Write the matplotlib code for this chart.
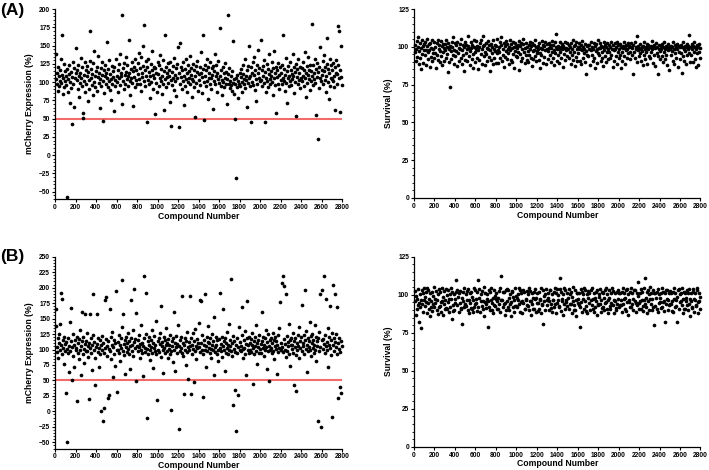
import numpy as np
import matplotlib
matplotlib.use("Agg")
import matplotlib.pyplot as plt
from matplotlib.ticker import MultipleLocator, AutoMinorLocator
from matplotlib.font_manager import FontProperties

plt.rcParams['font.family'] = ['Liberation Sans', 'DejaVu Sans']

# every 5th compound of the screen (compound numbers 1..2800)
compound_step = 5

mcherry_A = [
    138, 104, 97, 112, 88, 121, 108, 95, 117, 102, 131, 99, 164, 110, 84, 106, 125, 93, 115, 101,
    109, 96, -57, 118, 104, 87, 123, 111, 72, 100, 114, 92, 42, 107, 128, 98, 119, 66, 105, 113,
    146, 103, 116, 90, 124, 108, 79, 112, 99, 133, 106, 94, 120, 58, 51, 110, 101, 127, 86, 117,
    97, 122, 108, 74, 114, 103, 91, 129, 170, 105, 118, 96, 111, 83, 126, 100, 143, 109, 93, 115,
    121, 88, 107, 136, 99, 113, 64, 104, 119, 95, 110, 127, 47, 102, 116, 85, 108, 124, 97, 112,
    155, 106, 93, 118, 101, 130, 89, 111, 104, 76, 122, 98, 115, 107, 61, 120, 103, 94, 132, 109,
    100, 117, 86, 125, 105, 139, 96, 113, 108, 70, 192, 119, 102, 91, 126, 110, 98, 134, 114, 104,
    123, 95, 109, 157, 112, 101, 82, 118, 106, 128, 99, 115, 67, 121, 107, 93, 131, 103, 116, 97,
    126, 111, 104, 140, 98, 119, 88, 135, 113, 107, 122, 150, 178, 102, 117, 94, 129, 109, 45, 120,
    103, 132, 97, 114, 108, 78, 125, 100, 116, 142, 91, 110, 121, 105, 56, 119, 99, 113, 87, 127,
    111, 95, 124, 106, 137, 101, 118, 84, 108, 130, 97, 115, 62, 104, 165, 120, 93, 112, 107, 126,
    99, 117, 109, 73, 128, 103, 40, 114, 96, 122, 106, 89, 133, 110, 101, 119, 81, 125, 105, 148,
    38, 112, 154, 98, 121, 107, 90, 116, 102, 127, 68, 109, 118, 94, 131, 104, 113, 86, 123, 100,
    115, 106, 97, 136, 110, 119, 79, 104, 125, 101, 93, 117, 108, 52, 122, 99, 114, 129, 88, 111,
    103, 120, 96, 113, 141, 107, 85, 118, 165, 100, 48, 124, 109, 95, 116, 132, 102, 77, 121, 106,
    112, 98, 127, 105, 91, 119, 110, 63, 122, 101, 115, 138, 97, 108, 124, 87, 113, 104, 129, 99,
    174, 109, 95, 117, 103, 82, 121, 100, 112, 93, 106, 126, 98, 114, 70, 104, 192, 111, 97, 119,
    101, 92, 108, 96, 115, 88, 156, 99, 104, 84, 49, 97, -31, 105, 93, 110, 78, 102, 98, 113,
    95, 107, 118, 100, 86, 111, 124, 97, 104, 131, 92, 109, 103, 66, 116, 99, 122, 106, 150, 94,
    108, 121, 45, 113, 100, 127, 96, 110, 135, 89, 117, 104, 74, 123, 98, 112, 144, 105, 119, 101,
    158, 103, 116, 95, 122, 108, 130, 99, 46, 114, 106, 87, 125, 101, 118, 93, 111, 138, 104, 97,
    115, 109, 128, 100, 83, 119, 105, 142, 96, 112, 121, 58, 107, 116, 98, 126, 110, 91, 120, 103,
    113, 97, 124, 106, 164, 101, 118, 88, 110, 133, 99, 115, 72, 105, 122, 94, 109, 127, 102, 117,
    96, 111, 104, 139, 108, 120, 85, 114, 100, 125, 53, 107, 118, 98, 131, 103, 112, 92, 121, 106,
    119, 102, 128, 109, 94, 116, 141, 105, 113, 80, 122, 99, 110, 135, 104, 117, 89, 124, 101, 115,
    179, 108, 96, 123, 112, 104, 131, 99, 118, 55, 107, 126, 22, 114, 92, 120, 106, 148, 101, 116,
    110, 129, 97, 115, 137, 103, 121, 86, 109, 125, 160, 100, 118, 77, 112, 132, 95, 106, 123, 104,
    117, 101, 126, 108, 93, 120, 62, 113, 130, 98, 111, 124, 177, 105, 170, 116, 59, 107, 150, 96,
]

survival_A = [
    96.4, 101.2, 90.7, 98.3, 104.1, 93.5, 106.8, 99.6, 88.9, 97.2, 102.5, 92.8, 85.3, 98.9, 104.6, 95.1, 100.7, 89.6, 101.9, 97.7,
    94.6, 103.4, 98.1, 88.2, 100.3, 105.2, 96.5, 91.7, 101.6, 97.9, 86.4, 102.8, 93.3, 99.4, 104.3, 90.8, 98.6, 95.7, 103.1, 92.4,
    99.8, 96.1, 86.2, 102.3, 94.9, 104.7, 91.5, 98.7, 101.3, 89.8, 97.5, 103.6, 93.9, 100.2, 87.7, 96.8, 102.1, 99.1, 90.6, 101.7,
    97.6, 104.2, 92.6, 99.9, 95.4, 83.1, 102.7, 98.4, 89.9, 100.8, 73.4, 97.1, 91.9, 103.3, 100.1, 94.4, 106.2, 88.7, 98.2, 102.4,
    93.7, 100.9, 97.4, 87.3, 103.5, 95.8, 99.3, 90.9, 101.8, 98.8, 92.7, 105.4, 88.6, 97.8, 101.1, 94.8, 84.2, 99.7, 102.9, 91.6,
    101.5, 95.9, 98.5, 90.4, 100.6, 106.9, 93.6, 99.2, 97.3, 87.8, 103.2, 98.9, 91.8, 101.4, 95.5, 86.1, 99.8, 104.4, 96.7, 89.7,
    98.6, 103.7, 92.3, 100.5, 85.4, 97.7, 99.9, 91.2, 102.2, 95.3, 104.8, 98.4, 88.5, 100.4, 107.1, 93.8, 101.3, 96.6, 87.9, 102.6,
    95.2, 99.5, 90.3, 103.8, 98.3, 93.4, 100.9, 84.3, 97.6, 101.9, 91.4, 99.6, 96.2, 88.4, 104.5, 98.7, 92.5, 101.2, 96.9, 89.5,
    100.4, 95.6, 105.3, 98.2, 89.4, 99.7, 96.4, 103.1, 92.9, 101.5, 106.3, 90.5, 98.8, 94.7, 102.4, 86.9, 100.2, 93.2, 103.9, 97.1,
    92.2, 102.1, 98.5, 95.8, 100.1, 88.3, 104.2, 97.9, 91.3, 101.6, 99.1, 90.2, 103.4, 95.4, 99.8, 85.9, 97.4, 102.7, 93.6, 100.6,
    98.9, 93.5, 101.2, 96.3, 103.6, 84.8, 100.3, 95.1, 90.6, 102.3, 98.6, 92.9, 101.7, 104.9, 96.8, 89.3, 99.4, 94.6, 102.8, 91.5,
    99.6, 96.9, 89.9, 101.4, 94.5, 103.2, 98.3, 92.4, 100.7, 87.6, 102.6, 97.5, 91.8, 101.1, 98.1, 104.3, 93.7, 99.9, 90.8, 97.3,
    95.7, 100.8, 98.6, 91.6, 102.5, 96.2, 85.7, 99.5, 94.3, 103.7, 98.4, 89.5, 101.3, 93.4, 100.5, 97.8, 103.4, 88.8, 98.7, 101.6,
    97.4, 91.7, 102.2, 98.9, 94.6, 100.9, 89.7, 99.3, 104.1, 96.6, 92.3, 101.5, 98.2, 87.9, 102.9, 95.9, 100.1, 108.2, 90.9, 98.5,
    100.6, 94.8, 98.8, 89.6, 103.1, 96.5, 99.7, 92.6, 101.9, 98.3, 86.8, 100.7, 95.3, 99.5, 91.4, 103.5, 97.6, 98.9, 93.8, 102.2,
    98.7, 100.9, 92.7, 99.8, 96.4, 88.6, 102.4, 94.9, 98.6, 104.2, 91.3, 100.2, 96.7, 87.5, 101.2, 93.5, 103.3, 98.4, 90.5, 99.9,
    95.8, 99.6, 102.3, 90.7, 98.5, 101.4, 88.9, 97.7, 103.6, 92.8, 99.9, 95.6, 98.8, 102.1, 89.9, 97.3, 81.8, 100.4, 94.7, 101.3,
    93.9, 98.7, 101.1, 87.7, 97.9, 103.4, 94.5, 99.6, 90.8, 98.4, 102.6, 92.6, 85.8, 100.3, 96.9, 101.7, 89.4, 98.6, 104.2, 95.7,
    99.4, 94.9, 98.9, 102.4, 90.9, 100.8, 96.8, 92.5, 99.7, 87.6, 103.2, 98.2, 93.6, 101.4, 89.8, 100.1, 96.5, 102.3, 91.7, 98.8,
    96.8, 101.3, 92.9, 99.9, 103.3, 94.7, 98.5, 86.9, 100.9, 97.6, 90.6, 102.5, 98.6, 93.9, 99.8, 88.7, 103.4, 96.6, 101.2, 92.8,
    98.4, 94.6, 101.8, 85.9, 99.7, 96.8, 90.7, 100.6, 98.9, 103.2, 93.6, 99.5, 88.9, 97.7, 101.3, 92.7, 98.6, 102.2, 95.8, 99.9,
    100.8, 96.6, 91.9, 99.8, 102.3, 94.6, 98.9, 82.3, 101.2, 96.7, 103.4, 92.9, 99.6, 98.7, 106.9, 89.7, 100.7, 97.8, 93.7, 99.5,
    95.9, 101.7, 98.7, 90.9, 99.9, 96.9, 87.8, 100.6, 94.8, 103.3, 98.5, 91.8, 99.7, 96.6, 101.8, 88.9, 98.8, 100.9, 93.9, 99.6,
    99.7, 92.8, 100.8, 96.8, 98.6, 103.6, 89.6, 99.9, 94.7, 101.4, 98.9, 87.6, 102.3, 95.8, 99.6, 81.9, 93.7, 100.9, 98.7, 91.8,
    96.9, 100.7, 98.8, 93.8, 101.9, 89.9, 99.7, 96.7, 103.5, 91.9, 98.6, 100.8, 94.9, 99.8, 87.9, 97.7, 101.6, 98.9, 84.9, 99.6,
    98.8, 94.9, 100.6, 96.9, 99.9, 90.8, 102.9, 98.7, 88.8, 100.9, 95.9, 99.7, 92.9, 101.8, 98.6, 86.8, 100.8, 96.8, 91.9, 99.8,
    100.9, 95.8, 82.9, 99.7, 93.9, 103.1, 98.6, 90.9, 100.8, 96.9, 99.8, 88.8, 101.9, 94.8, 98.7, 100.6, 107.9, 95.9, 99.6, 89.8,
    94.8, 99.9, 98.8, 101.9, 89.9, 100.8, 96.7, 103.3, 91.7, 99.8, 98.6, 86.7, 100.9, 95.8, 87.8, 99.7, 96.8, 101.8, 98.9, 92.7,
]

mcherry_B = [
    138, 166, 104, 96, 118, 87, 110, 125, 99, 141, 192, 107, 182, 93, 115, 102, 76, 121, 98, 109,
    30, 112, -50, 101, 94, 119, 63, 106, 97, 145, 167, 113, 50, 104, 125, 90, 108, 72, 116, 100,
    103, 121, 17, 95, 110, 84, 117, 99, 131, 106, 58, 113, 161, 92, 120, 101, 78, 109, 157, 97,
    114, 98, 127, 105, 88, 111, 20, 102, 158, 95, 119, 67, 107, 124, 190, 100, 112, 86, 42, 104,
    158, 109, 96, 118, 71, 103, 115, 92, 0, 107, 122, 99, -15, 111, 5, 94, 180, 102, 185, 117,
    106, 90, 22, 113, 26, 101, 166, 97, 120, 85, 108, 129, 55, 104, 116, 93, 110, 74, 195, 99,
    31, 112, 100, 124, 95, 107, 81, 118, 103, 136, 213, 98, 158, 109, 91, 115, 61, 104, 121, 96,
    110, 101, 127, 93, 114, 68, 106, 119, 180, 97, 108, 132, 89, 112, 198, 102, 117, 49, 159, 105,
    98, 115, 104, 123, 87, 109, 100, 139, 94, 111, 57, 106, 219, 118, 96, 103, 192, 125, -10, 101,
    113, 92, 107, 120, 99, 83, 116, 104, 131, 95, 110, 70, 102, 122, 97, 108, 146, 93, 19, 114,
    100, 118, 96, 109, 127, 88, 171, 105, 112, 62, 99, 120, 103, 94, 115, 107, 134, 98, 111, 86,
    117, 101, 108, 93, 124, 97, 3, 113, 105, 80, 119, 99, 160, 110, 66, 104, 122, 95, 109, 140,
    -28, 106, 98, 115, 102, 121, 186, 94, 111, 89, 28, 107, 118, 100, 75, 113, 96, 128, 104, 52,
    99, 112, 186, 105, 28, 119, 93, 108, 126, 101, 47, 114, 97, 133, 106, 85, 117, 102, 110, 143,
    104, 96, 180, 111, 178, 100, 123, 92, 23, 108, 116, 99, 190, 105, 71, 120, 97, 112, 138, 103,
    110, 94, 118, 101, 86, 107, 125, 99, 113, 59, 152, 104, 96, 121, 108, 92, 115, 100, 81, 117,
    192, 103, 109, 97, 120, 88, 165, 106, 114, 100, 65, 118, 95, 111, 128, 102, 93, 107, 141, 99,
    105, 116, 214, 98, 110, 90, 10, 122, 101, 113, 35, 96, -31, 108, 119, 94, 27, 104, 136, 100,
    112, 97, 106, 124, 168, 101, 87, 115, 103, 130, 93, 109, 58, 118, 178, 99, 107, 121, 95, 111,
    100, 117, 96, 108, 126, 103, 44, 113, 92, 120, 105, 139, 98, 111, 77, 104, 116, 94, 123, 101,
    109, 95, 160, 114, 102, 121, 89, 107, 118, 99, 131, 104, 69, 112, 97, 125, 49, 106, 115, 100,
    103, 119, 94, 110, 127, 98, 115, 84, 106, 121, 101, 113, 60, 108, 96, 124, 102, 135, 176, 99,
    111, 104, 207, 96, 218, 117, 202, 100, 109, 88, 190, 122, 97, 112, 105, 142, 93, 115, 73, 107,
    119, 101, 108, 126, 95, 113, 42, 104, 118, 91, 33, 110, 99, 123, 106, 137, 86, 114, 102, 120,
    172, 98, 111, 105, 124, 93, 196, 116, 101, 130, 108, 64, 119, 97, 113, 104, 145, 99, 122, 89,
    110, 125, 103, 116, 94, 108, 139, 100, 121, 82, 113, 106, -16, 118, 97, 128, 190, 104, -25, 115,
    196, 101, 117, 109, 219, 95, 123, 106, 182, 112, 99, 134, 71, 108, 120, 103, 170, 115, 91, 126,
    -9, 107, 204, 118, 98, 112, 190, 104, 125, 93, 169, 110, 22, 101, 119, 96, 40, 114, 30, 106,
]

survival_B = [
    95.6, 102.3, 86.7, 99.1, 97.5, 90.8, 103.7, 93.4, 81.8, 94.7, 100.4, 91.6, 77.9, 96.2, 103.2, 93.7, 101.4, 88.9, 104.3, 96.8,
    98.7, 92.6, 101.8, 95.1, 87.9, 104.2, 94.8, 102.9, 90.7, 97.3, 100.8, 85.8, 95.9, 92.2, 89.6, 101.6, 93.8, 99.4, 105.1, 91.7,
    97.2, 94.6, 102.7, 89.8, 96.4, 100.7, 87.6, 103.5, 92.1, 92.8, 101.5, 95.3, 88.7, 104.1, 95.7, 98.2, 86.9, 102.6, 93.6, 90.4,
    96.6, 103.9, 91.2, 90.6, 99.7, 94.9, 102.8, 88.6, 97.4, 100.5, 91.9, 104.6, 96.9, 83.8, 101.9, 93.5, 89.3, 100.6, 89.7, 97.1,
    94.3, 101.6, 109.7, 92.9, 103.4, 98.7, 88.8, 100.9, 94.6, 102.5, 91.4, 90.9, 80.8, 97.6, 95.6, 101.7, 91.8, 104.2, 93.1, 93.9,
    100.6, 92.7, 96.3, 102.6, 89.9, 103.8, 96.7, 87.7, 100.8, 94.8, 91.3, 101.8, 90.6, 98.4, 88.9, 96.5, 104.4, 92.2, 93.7, 102.8,
    97.1, 94.7, 101.9, 89.4, 109.8, 91.9, 103.6, 97.9, 88.6, 100.7, 95.8, 102.7, 92.6, 96.1, 90.9, 104.8, 85.7, 100.8, 94.9, 91.3,
    93.8, 100.6, 97.2, 95.9, 78.8, 103.1, 91.8, 101.7, 89.8, 96.4, 104.3, 94.6, 90.2, 87.8, 97.6, 102.9, 93.3, 92.8, 99.2, 96.9,
    101.3, 95.7, 90.4, 90.8, 97.7, 102.6, 93.9, 104.7, 88.7, 96.3, 112.3, 96.7, 91.7, 101.5, 94.2, 101.8, 94.7, 86.8, 103.4, 89.7,
    95.8, 103.7, 91.6, 102.8, 89.7, 97.8, 100.7, 93.8, 95.1, 85.9, 102.2, 101.9, 91.8, 98.3, 96.8, 88.8, 104.5, 92.4, 92.7, 99.4,
    97.6, 91.7, 100.6, 96.6, 104.1, 93.7, 102.8, 88.9, 95.2, 100.9, 95.6, 87.9, 103.3, 94.7, 101.9, 90.3, 90.7, 97.5, 96.7, 102.4,
    93.2, 100.7, 92.8, 104.3, 89.8, 96.1, 102.7, 95.8, 86.9, 100.9, 93.8, 98.1, 90.5, 90.8, 101.7, 96.9, 103.6, 88.6, 97.8, 94.4,
    101.2, 94.8, 89.1, 101.8, 90.7, 97.4, 96.6, 104.5, 87.8, 93.3, 93.9, 102.8, 80.9, 99.3, 95.7, 100.7, 89.9, 103.9, 96.2, 92.9,
    97.7, 100.9, 95.6, 89.7, 103.2, 102.9, 93.6, 91.4, 100.6, 88.9, 96.5, 96.8, 101.9, 91.9, 104.4, 94.1, 87.7, 100.8, 94.8, 103.8,
    99.6, 96.8, 92.3, 91.8, 111.2, 103.5, 89.6, 101.8, 95.9, 97.1, 86.8, 100.6, 93.7, 104.6, 102.9, 90.9, 95.3, 96.6, 100.8, 92.8,
    97.9, 103.8, 90.9, 100.7, 94.1, 93.8, 101.9, 87.8, 98.2, 95.6, 104.9, 92.9, 90.1, 102.8, 89.9, 96.4, 85.8, 101.3, 100.9, 94.7,
    96.9, 100.8, 93.2, 91.9, 78.9, 103.7, 94.9, 101.8, 88.9, 97.3, 100.7, 90.8, 104.1, 95.9, 102.9, 92.7, 89.4, 100.6, 87.9, 98.1,
    102.4, 94.8, 100.9, 89.9, 96.2, 102.8, 92.9, 104.3, 96.9, 90.7, 88.8, 101.4, 91.9, 97.6, 101.9, 95.8, 86.9, 103.2, 93.5, 93.9,
    98.4, 100.6, 93.9, 103.9, 96.7, 88.9, 101.9, 91.1, 91.8, 100.9, 97.7, 89.8, 94.3, 102.8, 94.9, 104.1, 90.8, 100.7, 87.9, 96.3,
    97.8, 103.4, 92.3, 90.9, 100.8, 94.8, 104.6, 102.7, 92.9, 96.6, 87.9, 100.9, 95.8, 91.2, 89.9, 101.8, 93.8, 103.1, 97.2, 91.9,
    101.1, 92.9, 100.8, 96.8, 93.4, 88.9, 101.9, 104.2, 93.9, 97.5, 100.9, 90.9, 97.8, 89.6, 102.8, 94.9, 103.7, 100.7, 86.9, 95.4,
    96.8, 92.1, 101.8, 91.8, 104.7, 93.9, 100.8, 97.4, 89.9, 103.2, 95.9, 102.9, 88.8, 94.6, 100.9, 92.9, 108.2, 99.2, 94.8, 90.6,
    100.8, 95.9, 103.5, 90.8, 96.4, 101.9, 92.8, 89.3, 96.8, 104.4, 111.1, 93.9, 98.1, 91.7, 87.8, 101.8, 95.8, 103.2, 100.6, 89.9,
    97.3, 104.8, 93.8, 100.8, 96.9, 89.8, 102.9, 92.2, 79.9, 101.3, 92.8, 100.9, 97.9, 90.4, 101.9, 88.9, 103.6, 94.8, 100.7, 95.1,
    97.9, 100.9, 91.3, 91.9, 104.1, 94.9, 101.8, 95.9, 89.2, 100.8, 81.9, 103.4, 93.9, 97.2, 102.8, 89.8, 96.7, 92.9, 100.9, 94.1,
    102.2, 93.9, 100.8, 89.6, 95.8, 101.9, 88.8, 104.2, 97.1, 91.8, 100.9, 96.8, 92.4, 81.9, 98.3, 102.9, 90.9, 103.8, 94.9, 100.7,
    96.1, 100.9, 92.9, 104.5, 96.9, 87.9, 101.8, 90.5, 100.8, 90.9, 97.8, 95.9, 102.8, 93.3, 89.8, 100.9, 93.9, 103.9, 85.9, 97.4,
    100.9, 95.8, 91.2, 91.9, 103.6, 101.9, 88.9, 97.4, 96.8, 100.8, 92.6, 92.9, 102.9, 104.3, 94.9, 87.9, 100.8, 95.6, 90.9, 98.7,
]

x_ticks = list(range(0, 2801, 200))
threshold = 50

W, H = 709, 470
fig = plt.figure(figsize=(W / 100, H / 100), dpi=100)


def axes_px(x0, y0, x1, y1):
    return fig.add_axes([x0 / W, 1 - y1 / H, (x1 - x0) / W, (y1 - y0) / H])


tick_fp = FontProperties(family='Liberation Sans', weight='bold', size=4.8)
label_font = dict(family='Liberation Sans', weight='bold', size=6.2)


def style(ax, ymin, ymax, ylabel, xlabel):
    ax.set_xlim(0, 2800)
    ax.set_ylim(ymin, ymax)
    ax.set_xticks(x_ticks)
    ax.yaxis.set_major_locator(MultipleLocator(25))
    ax.yaxis.set_minor_locator(AutoMinorLocator(5))
    for s in ['top', 'right']:
        ax.spines[s].set_visible(False)
    for s in ['left', 'bottom']:
        ax.spines[s].set_linewidth(0.9)
    ax.tick_params(axis='both', which='major', length=2.5, width=0.8, pad=1.0)
    ax.tick_params(axis='y', which='minor', length=1.3, width=0.6)
    for lab in ax.get_xticklabels() + ax.get_yticklabels():
        lab.set_fontproperties(tick_fp)
    ax.set_ylabel(ylabel, fontdict=label_font, labelpad=3.5)
    if xlabel:
        ax.set_xlabel(xlabel, fontdict=label_font, labelpad=0.5)


def scatter(ax, vals):
    x = np.arange(1, len(vals) + 1) * compound_step
    ax.scatter(x, vals, s=7.0, c='black', linewidths=0, zorder=3, clip_on=False)


axA1 = axes_px(55, 9, 342, 199)
scatter(axA1, mcherry_A)
axA1.axhline(threshold, color='#f26b6b', lw=1.5, zorder=2)
style(axA1, -60, 200, 'mCherry Expression (%)', 'Compound Number')

axA2 = axes_px(414, 9, 700.5, 198)
scatter(axA2, survival_A)
style(axA2, 0, 125, 'Survival (%)', 'Compound Number')

axB1 = axes_px(55, 256.7, 342, 448.5)
scatter(axB1, mcherry_B)
axB1.axhline(threshold, color='#f26b6b', lw=1.5, zorder=2)
style(axB1, -60, 250, 'mCherry Expression (%)', 'Compound Number')

axB2 = axes_px(414, 256.7, 700.5, 446.7)
scatter(axB2, survival_B)
style(axB2, 0, 125, 'Survival (%)', 'Compound Number')

fig.text(0 / W, 1 - 3 / H, '(A)', fontsize=12.5, fontweight='bold', va='top', ha='left')
fig.text(0 / W, 1 - 249 / H, '(B)', fontsize=12.5, fontweight='bold', va='top', ha='left')

fig.savefig('out.png', dpi=100)
